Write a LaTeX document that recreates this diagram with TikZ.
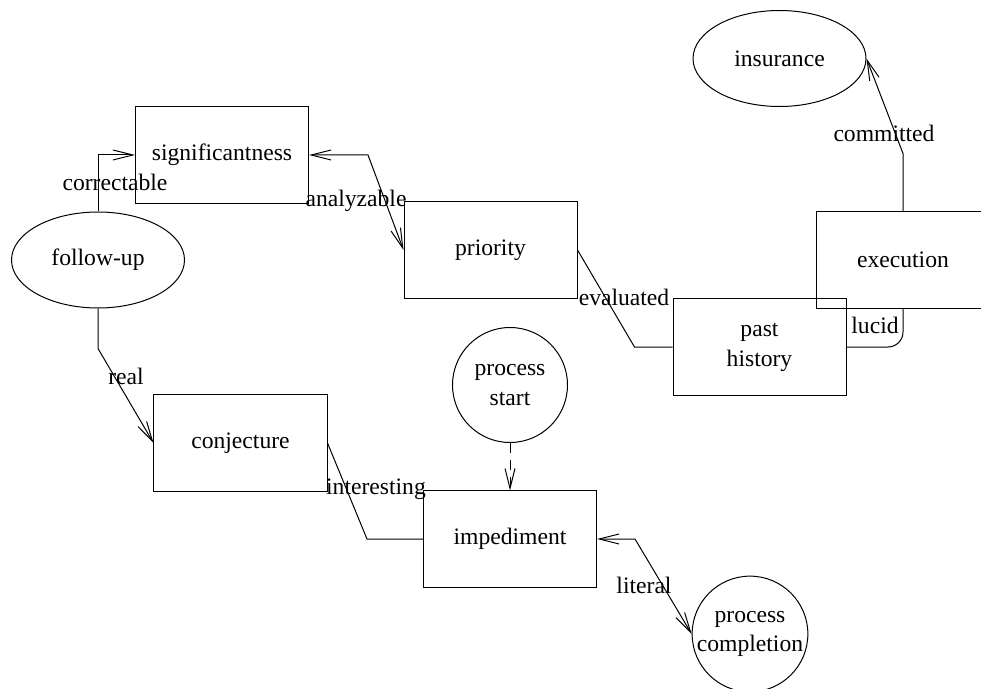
\documentclass[tikz,border=0pt]{standalone}
\usepackage{fontspec}
\setmainfont{Liberation Serif}
\usepackage{tikz}
\usetikzlibrary{arrows.meta,positioning,shapes.geometric}

\begin{document}
\begin{tikzpicture}[
  x=0.5bp, y=-0.5bp,
  font=\fontsize{11.85}{15}\selectfont,
  line width=0.5bp,
  box/.style={draw, rectangle, align=center, inner sep=0pt,
              minimum width=86.5bp, minimum height=48bp},
  oval/.style={draw, ellipse, align=center, inner sep=0pt,
               minimum width=86.5bp, minimum height=48bp},
  ring/.style={draw, circle, align=center, inner sep=0pt, minimum size=57.5bp},
  arr/.style={-{Straight Barb[length=10bp,width=5bp]}},
  biarr/.style={{Straight Barb[length=10bp,width=5bp]}-{Straight Barb[length=10bp,width=5bp]}},
  hint/.style={arr, dash pattern=on 5bp off 3.5bp},
  lbl/.style={inner sep=0pt},
]
\useasboundingbox (0,0) rectangle (981,689);
% ---------- nodes ----------
\node[oval] (fu) at (98,260) {follow-up};
\node[box] (sig) at (222,155) {significantness};
\node[box] (pri) at (490.5,250) {priority};
\node[box] (past) at (759.5,347) {past\\history};
\node[box] (exec) at (903,260) {execution};
\node[oval] (ins) at (779.5,58.5) {insurance};
\node[box] (conj) at (240.5,443) {conjecture};
\node[box] (imp) at (510,539) {impediment};
\node[ring] (ps) at (510,385) {process\\start};
\node[ring] (pc) at (750,634) {process\\completion};
% ---------- connectors ----------
\draw[arr] (fu.north) |- (sig.west);
\draw[biarr] (sig.east) -- ++(59,0) -- (pri.west);
\draw (pri.east) -- ([xshift=-19bp]past.west) -- (past.west);
\draw[rounded corners=7.5bp] (past.east) -| (exec.south);
\draw[arr] (exec.north) -- ++(0,-58) -- (ins.east);
\draw[arr] (fu.south) -- ++(0,40) -- (conj.west);
\draw (conj.east) -- ([xshift=-28bp]imp.west) -- (imp.west);
\draw[hint] (ps.south) -- (imp.north);
\draw[biarr] (imp.east) -- ++(38,0) -- (pc.west);
% ---------- labels ----------
\node[lbl] (lcorr) at (115,182) {correctable};
\node[lbl] (lana) at (356,201) {analyzable};
\node[lbl] (leval) at (624,297) {evaluated};
\node[lbl] (lluc) at (875,325) {lucid};
\node[lbl] (lcom) at (884,133) {committed};
\node[lbl] (lreal) at (126,376) {real};
\node[lbl] (lint) at (376,489) {interesting};
\node[lbl] (llit) at (644,585) {literal};
\end{tikzpicture}
\end{document}
